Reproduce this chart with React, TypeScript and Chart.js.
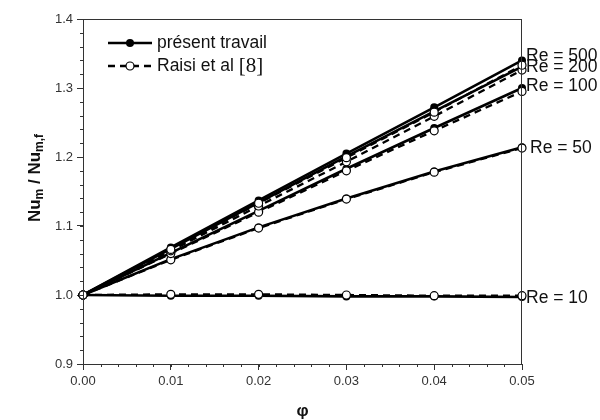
import React, { useEffect, useRef } from "react";
import { Chart, registerables } from "chart.js";

Chart.register(...registerables);

// Volume fraction of nanoparticles
const phi = [0, 0.01, 0.02, 0.03, 0.04, 0.05];

// Re labels shown at the right edge
const reNames = ["Re = 500", "Re = 200", "Re = 100", "Re = 50", "Re = 10"];

// Present work (solid lines, filled markers)
const present500 = [1.0, 1.069, 1.137, 1.205, 1.272, 1.34];
const present200 = [1.0, 1.067, 1.134, 1.201, 1.266, 1.331];
const present100 = [1.0, 1.061, 1.122, 1.183, 1.242, 1.3];
const present50 = [1.0, 1.052, 1.098, 1.14, 1.179, 1.214];
const present10 = [1.0, 0.999, 0.999, 0.998, 0.998, 0.997];

// Raisi et al. [8] (dashed lines, open markers)
const raisi500 = [1.0, 1.066, 1.133, 1.199, 1.265, 1.333];
const raisi200 = [1.0, 1.064, 1.129, 1.193, 1.259, 1.326];
const raisi100 = [1.0, 1.06, 1.12, 1.18, 1.238, 1.295];
const raisi50 = [1.0, 1.051, 1.097, 1.139, 1.178, 1.213];
const raisi10 = [1.0, 1.001, 1.001, 1.0, 0.999, 0.999];

const presentSeries = [present500, present200, present100, present50, present10];
const raisiSeries = [raisi500, raisi200, raisi100, raisi50, raisi10];

const FONT = '"Liberation Sans", Arial, sans-serif';
const AXIS = "#333";

const toPoints = (ys: number[]) => ys.map((y, i) => ({ x: phi[i], y }));

const overlay = {
  id: "overlay",
  afterDraw(chart: any) {
    const { ctx, chartArea: a, scales } = chart;
    const xs = scales.x;
    const ys = scales.y;
    ctx.save();

    // frame
    ctx.strokeStyle = AXIS;
    ctx.lineWidth = 1;
    ctx.strokeRect(a.left + 0.5, a.top + 0.5, a.right - a.left - 1, a.bottom - a.top);

    // minor ticks
    ctx.beginPath();
    for (let v = 0.9; v <= 1.4001; v += 0.02) {
      const p = Math.round(ys.getPixelForValue(v)) + 0.5;
      ctx.moveTo(a.left - 3, p);
      ctx.lineTo(a.left, p);
    }
    for (let v = 0; v <= 0.05001; v += 0.002) {
      const p = Math.round(xs.getPixelForValue(v)) + 0.5;
      ctx.moveTo(p, a.bottom);
      ctx.lineTo(p, a.bottom + 3);
    }
    ctx.stroke();

    // Re labels next to the line ends
    ctx.fillStyle = "#111";
    ctx.font = `17.5px ${FONT}`;
    ctx.textBaseline = "middle";
    ctx.textAlign = "left";
    presentSeries.forEach((s, i) => {
      const y = ys.getPixelForValue(s[s.length - 1]) + (i === 0 ? -4 : i === 2 ? -2 : 1);
      const x = a.right + (i === 3 ? 8 : 4);
      ctx.fillText(reNames[i], x, y);
    });

    // legend
    const lx0 = 108, lx1 = 152, cx = 130;
    const r1 = 43, r2 = 66;
    ctx.strokeStyle = "#000";
    ctx.lineWidth = 2.5;
    ctx.setLineDash([]);
    ctx.beginPath();
    ctx.moveTo(lx0, r1);
    ctx.lineTo(lx1, r1);
    ctx.stroke();
    ctx.fillStyle = "#000";
    ctx.beginPath();
    ctx.arc(cx, r1, 4, 0, Math.PI * 2);
    ctx.fill();

    ctx.setLineDash([7, 5]);
    ctx.beginPath();
    ctx.moveTo(lx0, r2);
    ctx.lineTo(lx1, r2);
    ctx.stroke();
    ctx.setLineDash([]);
    ctx.fillStyle = "#fff";
    ctx.lineWidth = 1.2;
    ctx.beginPath();
    ctx.arc(cx, r2, 4, 0, Math.PI * 2);
    ctx.fill();
    ctx.stroke();

    ctx.fillStyle = "#111";
    ctx.font = `17.5px ${FONT}`;
    ctx.fillText("présent travail", 157, r1);
    const t2 = "Raisi et al ";
    ctx.fillText(t2, 157, r2);
    const w2 = ctx.measureText(t2).width;
    ctx.font = `21px "Liberation Serif", "Times New Roman", serif`;
    ctx.fillText("[8]", 157 + w2, r2);

    // x axis title
    ctx.font = `bold 17px ${FONT}`;
    ctx.textAlign = "center";
    ctx.fillStyle = "#111";
    ctx.fillText("φ", (a.left + a.right) / 2, 411);

    // y axis title with subscripts
    const parts: [string, boolean][] = [
      ["Nu", false],
      ["m", true],
      [" / Nu", false],
      ["m,f", true],
    ];
    const big = `bold 17px ${FONT}`;
    const small = `bold 12px ${FONT}`;
    let total = 0;
    parts.forEach(([t, sub]) => {
      ctx.font = sub ? small : big;
      total += ctx.measureText(t).width;
    });
    ctx.translate(34, 178);
    ctx.rotate(-Math.PI / 2);
    ctx.textAlign = "left";
    ctx.textBaseline = "alphabetic";
    let x = -total / 2;
    parts.forEach(([t, sub]) => {
      ctx.font = sub ? small : big;
      ctx.fillText(t, x, sub ? 9 : 6);
      x += ctx.measureText(t).width;
    });

    ctx.restore();
  },
};

export default function App() {
  const ref = useRef<HTMLCanvasElement | null>(null);

  useEffect(() => {
    if (!ref.current) return;

    const raisiSets = raisiSeries.map((s, i) => ({
      label: `Raisi ${reNames[i]}`,
      data: toPoints(s),
      borderColor: "#000",
      borderWidth: 2.3,
      borderDash: [7, 5],
      pointRadius: 4,
      pointBorderWidth: 1.2,
      pointBackgroundColor: "#fff",
      pointBorderColor: "#000",
      fill: false,
      tension: 0,
      clip: false,
    }));
    const presentSets = presentSeries.map((s, i) => ({
      label: `présent ${reNames[i]}`,
      data: toPoints(s),
      borderColor: "#000",
      borderWidth: 2.6,
      pointRadius: 4,
      pointBorderWidth: 0,
      pointBackgroundColor: "#000",
      fill: false,
      tension: 0,
      clip: false,
    }));

    const chart = new Chart(ref.current, {
      type: "line",
      data: { datasets: [...raisiSets, ...presentSets] as any },
      plugins: [overlay],
      options: {
        animation: false,
        responsive: true,
        maintainAspectRatio: false,
        layout: { padding: { top: 19, right: 78, left: 0, bottom: 0 } },
        plugins: { legend: { display: false }, tooltip: { enabled: false } },
        scales: {
          x: {
            type: "linear",
            min: 0,
            max: 0.05,
            afterFit: (s: any) => {
              s.height = 56;
            },
            ticks: {
              stepSize: 0.01,
              padding: 4,
              color: "#333",
              font: { family: FONT, size: 13 },
              callback: (v: any) => Number(v).toFixed(2),
            },
            grid: { drawOnChartArea: false, drawTicks: true, tickLength: 6, color: AXIS },
            border: { color: AXIS },
          },
          y: {
            type: "linear",
            min: 0.9,
            max: 1.4,
            afterFit: (s: any) => {
              s.width = 83;
            },
            ticks: {
              stepSize: 0.1,
              padding: 4,
              color: "#333",
              font: { family: FONT, size: 13 },
              callback: (v: any) => Number(v).toFixed(1),
            },
            grid: { drawOnChartArea: false, drawTicks: true, tickLength: 6, color: AXIS },
            border: { color: AXIS },
          },
        },
      },
    });
    return () => chart.destroy();
  }, []);

  return (
    <div style={{ position: "absolute", left: 0, top: 0, width: 600, height: 420, background: "#fff" }}>
      <canvas ref={ref} />
    </div>
  );
}
